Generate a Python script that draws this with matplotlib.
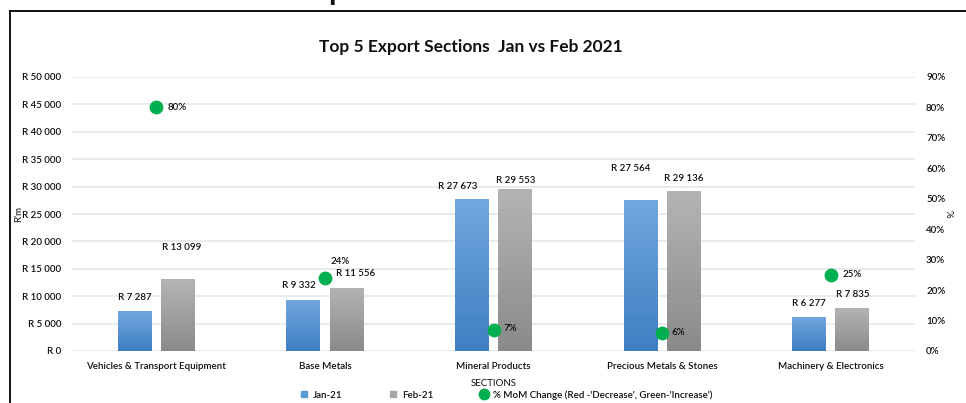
import numpy as np
import matplotlib
matplotlib.use("Agg")
import matplotlib.pyplot as plt
from matplotlib.lines import Line2D
from matplotlib.colors import LinearSegmentedColormap

plt.rcParams["font.family"] = ["Lato", "DejaVu Sans"]
plt.rcParams["font.weight"] = "semibold"

sections = ["Vehicles & Transport Equipment", "Base Metals", "Mineral Products",
            "Precious Metals & Stones", "Machinery & Electronics"]
jan21 = [7287, 9332, 27673, 27564, 6277]
feb21 = [13099, 11556, 29553, 29136, 7835]
mom_pct = [80, 24, 7, 6, 25]

left_ticks = list(range(0, 50001, 5000))
right_ticks = list(range(0, 91, 10))

# label nudges in points (dx, dy from bar top to label centre)
jan_off = [(0, 10), (-3.5, 10), (-10, 9), (-7, 23), (0, 9.5)]
feb_off = [(3, 23), (6.5, 10), (0.7, 6.5), (0, 9), (0, 10)]
pct_off = [(8, 0), (4, 11.5), (7, 0.5), (7, 0), (8.5, 0)]

TXT = "#0d0d0d"
FS = 7

fig = plt.figure(figsize=(9.66, 4.03), dpi=100)
ax = fig.add_axes([72/966, 1-351/403, (915-72)/966, (351-77)/403])

x = np.arange(len(sections))
w = 0.2
d = 0.128
b1 = ax.bar(x-d, jan21, w, color="#5b9bd5", zorder=2)
b2 = ax.bar(x+d, feb21, w, color="#a5a5a5", zorder=2)

blue_cm = LinearSegmentedColormap.from_list("b", ["#3e7fc2", "#72a8de"])
grey_cm = LinearSegmentedColormap.from_list("g", ["#8a8a8a", "#b4b4b4"])
grad = np.linspace(0, 1, 128).reshape(-1, 1)
for bars, cm in ((b1, blue_cm), (b2, grey_cm)):
    for p in bars:
        x0, y0 = p.get_x(), p.get_y()
        im = ax.imshow(grad, cmap=cm, origin="lower", aspect="auto",
                       extent=(x0, x0+p.get_width(), y0, y0+p.get_height()), zorder=2.1)
        im.set_clip_path(p)
        p.set_facecolor("none")

ax.set_xlim(-0.5, len(sections)-0.5)
ax.set_ylim(0, 50000)
ax.set_yticks(left_ticks)
ax.set_yticklabels(["R " + f"{v:,}".replace(",", " ") for v in left_ticks])
ax.set_xticks(x)
ax.set_xticklabels(sections)
ax.grid(axis="y", color="#e4e8ee", lw=1.2, zorder=0)
ax.tick_params(length=0, labelsize=FS, colors=TXT)
ax.tick_params(axis="y", pad=7.5)
ax.tick_params(axis="x", pad=8)
for s in ax.spines.values():
    s.set_visible(False)
ax.set_xlabel("SECTIONS", fontsize=FS, color=TXT, labelpad=6)
ax.set_ylabel("R'm", fontsize=FS, color=TXT)
ax.yaxis.set_label_coords(-0.058, 0.5)

for i in range(len(sections)):
    ax.annotate("R " + f"{jan21[i]:,}".replace(",", " "), (x[i]-d, jan21[i]),
                xytext=jan_off[i], textcoords="offset points", ha="center", va="center",
                fontsize=FS, color=TXT, zorder=5)
    ax.annotate("R " + f"{feb21[i]:,}".replace(",", " "), (x[i]+d, feb21[i]),
                xytext=feb_off[i], textcoords="offset points", ha="center", va="center",
                fontsize=FS, color=TXT, zorder=5)

ax2 = ax.twinx()
ax2.set_ylim(0, 90)
ax2.set_yticks(right_ticks)
ax2.set_yticklabels([f"{v}%" for v in right_ticks])
ax2.tick_params(length=0, labelsize=FS, colors=TXT, pad=8)
for s in ax2.spines.values():
    s.set_visible(False)
ax2.set_ylabel("%", fontsize=FS, color=TXT, rotation=270)
ax2.yaxis.set_label_coords(1.045, 0.5)
ax2.scatter(x, mom_pct, s=80, color="#00b050", zorder=6)
for i in range(len(sections)):
    ax2.annotate(f"{mom_pct[i]}%", (x[i], mom_pct[i]), xytext=pct_off[i],
                 textcoords="offset points", ha="left", va="center", fontsize=FS, color=TXT)

fig.text(471/966, 1-47/403, "Top 5 Export Sections  Jan vs Feb 2021", ha="center", va="center",
         fontsize=12.5, fontweight="bold", color="#111111")
fig.text(337/966, 1.0, "p", ha="center", va="baseline", fontsize=22,
         fontweight="bold", color="#111111")

handles = [Line2D([], [], ls="", marker="s", ms=4.5, color="#5b9bd5"),
           Line2D([], [], ls="", marker="s", ms=4.5, color="#a5a5a5"),
           Line2D([], [], ls="", marker="o", ms=7.5, color="#00b050")]
fig.legend(handles, ["Jan-21", "Feb-21", "% MoM Change (Red -'Decrease', Green-'Increase')"],
           loc="center", bbox_to_anchor=(506/966, 1-395/403), ncol=3, frameon=False,
           fontsize=FS, handlelength=0.9, handletextpad=0.45, columnspacing=4.8,
           labelcolor=TXT)

fig.add_artist(Line2D([10/966, 10/966], [0, 1-11/403], color="black", lw=1.3))
fig.add_artist(Line2D([10/966, 1], [1-11/403, 1-11/403], color="black", lw=1.3))

fig.savefig("out.png", dpi=100)
